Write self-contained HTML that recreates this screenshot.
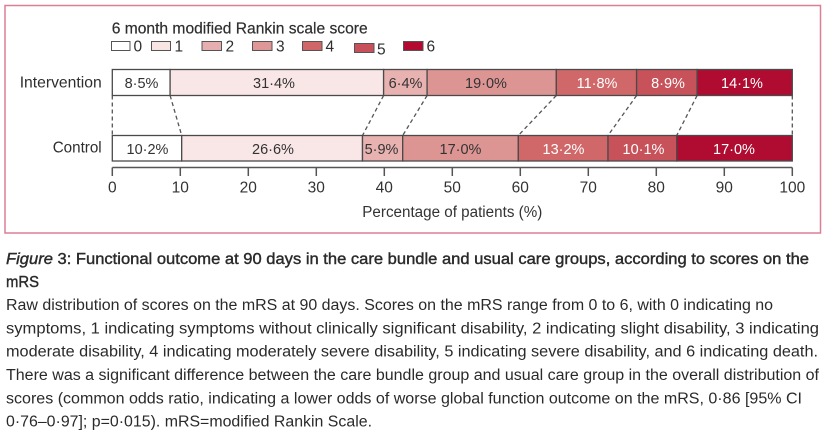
<!DOCTYPE html>
<html>
<head>
<meta charset="utf-8">
<style>
html,body{margin:0;padding:0;background:#fff;}
svg{display:block;}
text{font-family:"Liberation Sans",sans-serif;}
</style>
</head>
<body>
<svg width="831" height="438" viewBox="0 0 831 438" xmlns="http://www.w3.org/2000/svg">
<rect x="0" y="0" width="831" height="438" fill="#fff"/>
<!-- frame -->
<rect x="5" y="5.5" width="815.5" height="227.5" fill="none" stroke="#dc7f96" stroke-width="1.5"/>

<!-- legend -->
<text x="111.7" y="33.3" font-size="16" fill="#2e2e2e" stroke="#2e2e2e" stroke-width="0.2" textLength="256" lengthAdjust="spacingAndGlyphs">6 month modified Rankin scale score</text>
<g stroke="#555" stroke-width="1">
<rect x="111.5" y="41.5" width="18.5" height="9" fill="#ffffff"/>
<rect x="151.5" y="41.5" width="19" height="9" fill="#f9e4e4"/>
<rect x="202" y="41.5" width="19.5" height="9" fill="#e6aeae"/>
<rect x="252.5" y="41.5" width="19.5" height="9" fill="#de9696"/>
<rect x="302.5" y="41.5" width="19.5" height="9" fill="#d06668"/>
<rect x="354.5" y="43.5" width="19.5" height="9" fill="#c8505a"/>
<rect x="403.5" y="41.5" width="19.5" height="9" fill="#b50a30"/>
</g>
<g font-size="15.5" fill="#2e2e2e">
<text x="133.5" y="51.5">0</text>
<text x="174.5" y="51.5">1</text>
<text x="225.5" y="51.5">2</text>
<text x="276" y="51.5">3</text>
<text x="325.5" y="51.5">4</text>
<text x="377" y="54.5">5</text>
<text x="426.5" y="51.5">6</text>
</g>

<!-- row labels -->
<text x="101.7" y="87.5" font-size="16" fill="#2e2e2e" text-anchor="end" textLength="82" lengthAdjust="spacingAndGlyphs">Intervention</text>
<text x="101.7" y="152.5" font-size="16" fill="#2e2e2e" text-anchor="end" textLength="49" lengthAdjust="spacingAndGlyphs">Control</text>

<!-- dashed connectors -->
<g stroke="#555" stroke-width="1.3" stroke-dasharray="4 3" fill="none">
<line x1="112.3" y1="95.5" x2="112.3" y2="135.5"/>
<line x1="170.1" y1="95.5" x2="181.7" y2="135.5"/>
<line x1="383.6" y1="95.5" x2="362.5" y2="135.5"/>
<line x1="427.1" y1="95.5" x2="402.7" y2="135.5"/>
<line x1="556.3" y1="95.5" x2="518.3" y2="135.5"/>
<line x1="636.6" y1="95.5" x2="608.0" y2="135.5"/>
<line x1="697.1" y1="95.5" x2="676.7" y2="135.5"/>
<line x1="792.3" y1="95.5" x2="792.3" y2="135.5"/>
</g>

<!-- intervention bar -->
<g stroke="#4a4a4a" stroke-width="1.3">
<rect x="112.3" y="69.5" width="57.8" height="26" fill="#ffffff"/>
<rect x="170.1" y="69.5" width="213.5" height="26" fill="#f9e6e6"/>
<rect x="383.6" y="69.5" width="43.5" height="26" fill="#e8b2b1"/>
<rect x="427.1" y="69.5" width="129.2" height="26" fill="#dd9594"/>
<rect x="556.3" y="69.5" width="80.3" height="26" fill="#d0686a"/>
<rect x="636.6" y="69.5" width="60.5" height="26" fill="#c7525a"/>
<rect x="697.1" y="69.5" width="95.2" height="26" fill="#b00b31"/>
</g>
<!-- control bar -->
<g stroke="#4a4a4a" stroke-width="1.3">
<rect x="112.3" y="135.5" width="69.4" height="25.5" fill="#ffffff"/>
<rect x="181.7" y="135.5" width="180.8" height="25.5" fill="#f9e6e6"/>
<rect x="362.5" y="135.5" width="40.2" height="25.5" fill="#e8b2b1"/>
<rect x="402.7" y="135.5" width="115.6" height="25.5" fill="#dd9594"/>
<rect x="518.3" y="135.5" width="89.7" height="25.5" fill="#d0686a"/>
<rect x="608.0" y="135.5" width="68.7" height="25.5" fill="#c7525a"/>
<rect x="676.7" y="135.5" width="115.6" height="25.5" fill="#b00b31"/>
</g>

<!-- bar labels -->
<g font-size="14.5" text-anchor="middle">
<text x="141.5" y="88" fill="#333">8·5%</text>
<text x="274" y="88" fill="#333">31·4%</text>
<text x="405.5" y="88" fill="#333">6·4%</text>
<text x="486" y="88" fill="#333">19·0%</text>
<text x="597" y="88" fill="#ffffff">11·8%</text>
<text x="668" y="88" fill="#ffffff">8·9%</text>
<text x="742" y="88" fill="#ffffff">14·1%</text>

<text x="147.5" y="154" fill="#333">10·2%</text>
<text x="273" y="154" fill="#333">26·6%</text>
<text x="381.5" y="154" fill="#333">5·9%</text>
<text x="460.5" y="154" fill="#333">17·0%</text>
<text x="563.5" y="154" fill="#ffffff">13·2%</text>
<text x="643.5" y="154" fill="#ffffff">10·1%</text>
<text x="734" y="154" fill="#ffffff">17·0%</text>
</g>

<!-- axis -->
<g stroke="#555" stroke-width="1.5">
<line x1="112.3" y1="167.5" x2="792.3" y2="167.5"/>
<line x1="112.3" y1="167.5" x2="112.3" y2="176"/>
<line x1="180.3" y1="167.5" x2="180.3" y2="176"/>
<line x1="248.3" y1="167.5" x2="248.3" y2="176"/>
<line x1="316.3" y1="167.5" x2="316.3" y2="176"/>
<line x1="384.3" y1="167.5" x2="384.3" y2="176"/>
<line x1="452.3" y1="167.5" x2="452.3" y2="176"/>
<line x1="520.3" y1="167.5" x2="520.3" y2="176"/>
<line x1="588.3" y1="167.5" x2="588.3" y2="176"/>
<line x1="656.3" y1="167.5" x2="656.3" y2="176"/>
<line x1="724.3" y1="167.5" x2="724.3" y2="176"/>
<line x1="792.3" y1="167.5" x2="792.3" y2="176"/>
</g>
<g font-size="15.5" fill="#333" text-anchor="middle">
<text x="112.3" y="192.5">0</text>
<text x="180.3" y="192.5">10</text>
<text x="248.3" y="192.5">20</text>
<text x="316.3" y="192.5">30</text>
<text x="384.3" y="192.5">40</text>
<text x="452.3" y="192.5">50</text>
<text x="520.3" y="192.5">60</text>
<text x="588.3" y="192.5">70</text>
<text x="656.3" y="192.5">80</text>
<text x="724.3" y="192.5">90</text>
<text x="792.3" y="192.5">100</text>
</g>
<text x="452.3" y="217" font-size="15.5" fill="#333" text-anchor="middle" textLength="180" lengthAdjust="spacingAndGlyphs">Percentage of patients (%)</text>

<!-- caption -->
<text x="6" y="264" font-size="15.5" fill="#2a2a2a" stroke="#2a2a2a" stroke-width="0.4" textLength="803" lengthAdjust="spacingAndGlyphs"><tspan font-style="italic">Figure</tspan> 3: Functional outcome at 90 days in the care bundle and usual care groups, according to scores on the</text>
<text x="6" y="287" font-size="15.5" fill="#2a2a2a" stroke="#2a2a2a" stroke-width="0.4" textLength="33" lengthAdjust="spacingAndGlyphs">mRS</text>
<g font-size="15.5" fill="#2a2a2a">
<text x="6" y="310" textLength="767" lengthAdjust="spacingAndGlyphs">Raw distribution of scores on the mRS at 90 days. Scores on the mRS range from 0 to 6, with 0 indicating no</text>
<text x="6" y="333.3" textLength="813" lengthAdjust="spacingAndGlyphs">symptoms, 1 indicating symptoms without clinically significant disability, 2 indicating slight disability, 3 indicating</text>
<text x="6" y="356.7" textLength="812" lengthAdjust="spacingAndGlyphs">moderate disability, 4 indicating moderately severe disability, 5 indicating severe disability, and 6 indicating death.</text>
<text x="6" y="380" textLength="813" lengthAdjust="spacingAndGlyphs">There was a significant difference between the care bundle group and usual care group in the overall distribution of</text>
<text x="6" y="403.3" textLength="796" lengthAdjust="spacingAndGlyphs">scores (common odds ratio, indicating a lower odds of worse global function outcome on the mRS, 0·86 [95% CI</text>
<text x="6" y="426.7" textLength="366" lengthAdjust="spacingAndGlyphs">0·76–0·97]; p=0·015). mRS=modified Rankin Scale.</text>
</g>
</svg>
</body>
</html>
